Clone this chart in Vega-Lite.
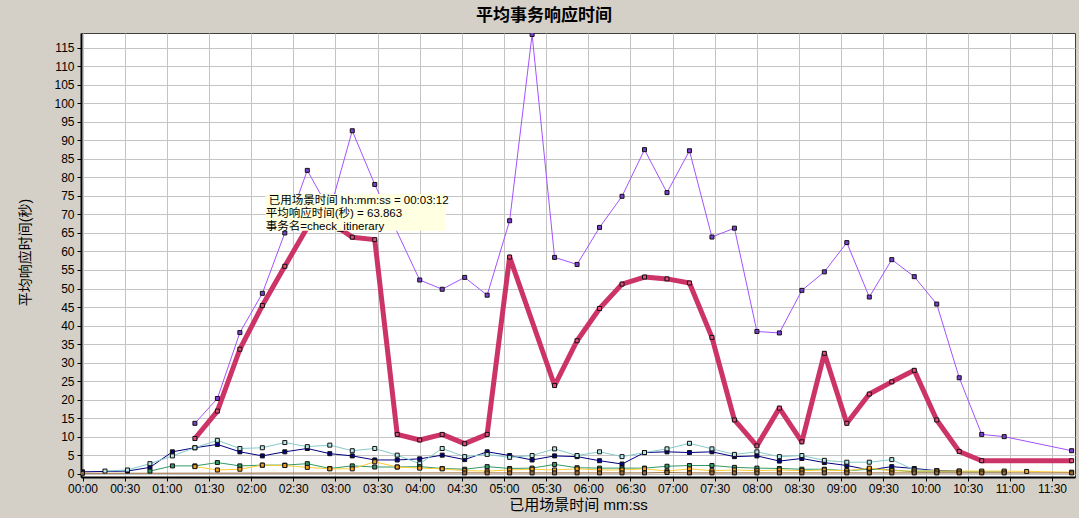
{
  "$schema": "https://vega.github.io/schema/vega-lite/v6.json",
  "width": 994,
  "height": 444,
  "autosize": {"type": "none"},
  "padding": {"left": 81, "top": 33, "right": 4, "bottom": 41},
  "background": "#D4D0C8",
  "view": {"stroke": "#404040", "strokeWidth": 1, "fill": "white"},
  "title": {"text": "平均事务响应时间", "fontSize": 17, "fontWeight": "bold", "font": "Noto Sans CJK SC", "color": "black", "dx": -34, "offset": 8},
  "config": {
    "axis": {"labelFont": "Liberation Sans", "labelFontSize": 12, "labelColor": "black", "titleFont": "Liberation Sans, Noto Sans CJK SC", "titleFontWeight": "normal", "titleColor": "black", "gridColor": "#C4C4C4", "gridWidth": 1, "domainColor": "black", "domainWidth": 2, "tickColor": "black", "tickSize": 4}
  },
  "datasets": {
    "tipbox": [{"t": 130.2, "t2": 258.5, "v": 75.5, "v2": 65.6}],
    "tiptext": [
      {"t": 132.5, "v": 73.7, "label": "已用场景时间 hh:mm:ss = 00:03:12"},
      {"t": 130.4, "v": 70.2, "label": "平均响应时间(秒) = 63.863"},
      {"t": 130.4, "v": 66.7, "label": "事务名=check_itinerary"}
    ]
  },
  "data": {"values": [
    {"s":"check_itinerary","t":80,"v":9.5},{"s":"check_itinerary","t":96,"v":16.9},{"s":"check_itinerary","t":112,"v":33.6},{"s":"check_itinerary","t":128,"v":45.4},{"s":"check_itinerary","t":144,"v":56},{"s":"check_itinerary","t":160,"v":66.5},{"s":"check_itinerary","t":176,"v":68},{"s":"check_itinerary","t":192,"v":63.863},{"s":"check_itinerary","t":208,"v":63.2},{"s":"check_itinerary","t":224,"v":10.6},{"s":"check_itinerary","t":240,"v":9.1},{"s":"check_itinerary","t":256,"v":10.6},{"s":"check_itinerary","t":272,"v":8.1},{"s":"check_itinerary","t":288,"v":10.6},{"s":"check_itinerary","t":304,"v":58.5},{"s":"check_itinerary","t":336,"v":23.8},{"s":"check_itinerary","t":352,"v":35.9},{"s":"check_itinerary","t":368,"v":44.6},{"s":"check_itinerary","t":384,"v":51.2},{"s":"check_itinerary","t":400,"v":53.1},{"s":"check_itinerary","t":416,"v":52.6},{"s":"check_itinerary","t":432,"v":51.5},{"s":"check_itinerary","t":448,"v":36.8},{"s":"check_itinerary","t":464,"v":14.5},{"s":"check_itinerary","t":480,"v":7.5},{"s":"check_itinerary","t":496,"v":17.7},{"s":"check_itinerary","t":512,"v":8.6},{"s":"check_itinerary","t":528,"v":32.5},{"s":"check_itinerary","t":544,"v":13.6},{"s":"check_itinerary","t":560,"v":21.5},{"s":"check_itinerary","t":576,"v":24.8},{"s":"check_itinerary","t":592,"v":27.9},{"s":"check_itinerary","t":608,"v":14.5},{"s":"check_itinerary","t":624,"v":6.0},{"s":"check_itinerary","t":640,"v":3.5},{"s":"check_itinerary","t":704,"v":3.5},
    {"s":"book_flight","t":80,"v":13.6},{"s":"book_flight","t":96,"v":20.3},{"s":"book_flight","t":112,"v":38.1},{"s":"book_flight","t":128,"v":48.7},{"s":"book_flight","t":144,"v":65},{"s":"book_flight","t":160,"v":81.9},{"s":"book_flight","t":176,"v":71},{"s":"book_flight","t":192,"v":92.6},{"s":"book_flight","t":208,"v":78.1},{"s":"book_flight","t":240,"v":52.3},{"s":"book_flight","t":256,"v":49.8},{"s":"book_flight","t":272,"v":53.0},{"s":"book_flight","t":288,"v":48.2},{"s":"book_flight","t":304,"v":68.3},{"s":"book_flight","t":320,"v":118.6},{"s":"book_flight","t":336,"v":58.4},{"s":"book_flight","t":352,"v":56.5},{"s":"book_flight","t":368,"v":66.5},{"s":"book_flight","t":384,"v":74.9},{"s":"book_flight","t":400,"v":87.5},{"s":"book_flight","t":416,"v":75.9},{"s":"book_flight","t":432,"v":87.2},{"s":"book_flight","t":448,"v":63.9},{"s":"book_flight","t":464,"v":66.3},{"s":"book_flight","t":480,"v":38.4},{"s":"book_flight","t":496,"v":38.0},{"s":"book_flight","t":512,"v":49.5},{"s":"book_flight","t":528,"v":54.5},{"s":"book_flight","t":544,"v":62.4},{"s":"book_flight","t":560,"v":47.7},{"s":"book_flight","t":576,"v":57.8},{"s":"book_flight","t":592,"v":53.2},{"s":"book_flight","t":608,"v":45.8},{"s":"book_flight","t":624,"v":25.9},{"s":"book_flight","t":640,"v":10.6},{"s":"book_flight","t":656,"v":10.0},{"s":"book_flight","t":704,"v":6.2},
    {"s":"login","t":0,"v":0.5},{"s":"login","t":32,"v":0.7},{"s":"login","t":48,"v":1.7},{"s":"login","t":64,"v":5.9},{"s":"login","t":80,"v":7.0},{"s":"login","t":96,"v":7.9},{"s":"login","t":112,"v":5.9},{"s":"login","t":128,"v":4.8},{"s":"login","t":144,"v":5.9},{"s":"login","t":160,"v":6.8},{"s":"login","t":176,"v":5.4},{"s":"login","t":192,"v":4.8},{"s":"login","t":208,"v":3.7},{"s":"login","t":224,"v":3.7},{"s":"login","t":240,"v":4.0},{"s":"login","t":256,"v":5.0},{"s":"login","t":272,"v":3.8},{"s":"login","t":288,"v":5.9},{"s":"login","t":304,"v":4.9},{"s":"login","t":320,"v":3.7},{"s":"login","t":336,"v":4.8},{"s":"login","t":352,"v":4.6},{"s":"login","t":368,"v":3.5},{"s":"login","t":384,"v":2.6},{"s":"login","t":400,"v":5.7},{"s":"login","t":416,"v":5.9},{"s":"login","t":432,"v":5.7},{"s":"login","t":448,"v":5.9},{"s":"login","t":464,"v":4.6},{"s":"login","t":480,"v":4.8},{"s":"login","t":496,"v":3.4},{"s":"login","t":512,"v":4.1},{"s":"login","t":528,"v":3.0},{"s":"login","t":544,"v":2.2},{"s":"login","t":560,"v":1.0},{"s":"login","t":576,"v":1.9},{"s":"login","t":592,"v":1.4},{"s":"login","t":608,"v":0.8},{"s":"login","t":624,"v":0.7},
    {"s":"search_flight","t":16,"v":0.7},{"s":"search_flight","t":32,"v":1.0},{"s":"search_flight","t":48,"v":2.7},{"s":"search_flight","t":64,"v":4.8},{"s":"search_flight","t":80,"v":7.0},{"s":"search_flight","t":96,"v":9.0},{"s":"search_flight","t":112,"v":6.8},{"s":"search_flight","t":128,"v":7.0},{"s":"search_flight","t":144,"v":8.4},{"s":"search_flight","t":160,"v":7.3},{"s":"search_flight","t":176,"v":7.7},{"s":"search_flight","t":192,"v":6.2},{"s":"search_flight","t":208,"v":6.8},{"s":"search_flight","t":224,"v":5.0},{"s":"search_flight","t":240,"v":2.7},{"s":"search_flight","t":256,"v":6.8},{"s":"search_flight","t":272,"v":4.6},{"s":"search_flight","t":288,"v":5.2},{"s":"search_flight","t":304,"v":4.4},{"s":"search_flight","t":320,"v":4.9},{"s":"search_flight","t":336,"v":6.7},{"s":"search_flight","t":352,"v":4.9},{"s":"search_flight","t":368,"v":5.9},{"s":"search_flight","t":384,"v":4.6},{"s":"search_flight","t":400,"v":5.7},{"s":"search_flight","t":416,"v":6.7},{"s":"search_flight","t":432,"v":8.2},{"s":"search_flight","t":448,"v":6.7},{"s":"search_flight","t":464,"v":5.2},{"s":"search_flight","t":480,"v":5.9},{"s":"search_flight","t":496,"v":4.6},{"s":"search_flight","t":512,"v":4.9},{"s":"search_flight","t":528,"v":3.6},{"s":"search_flight","t":544,"v":3.1},{"s":"search_flight","t":560,"v":3.1},{"s":"search_flight","t":576,"v":3.8},{"s":"search_flight","t":592,"v":1.0},{"s":"search_flight","t":608,"v":0.8},
    {"s":"home","t":48,"v":0.7},{"s":"home","t":64,"v":2.1},{"s":"home","t":80,"v":2.1},{"s":"home","t":96,"v":3.0},{"s":"home","t":112,"v":2.1},{"s":"home","t":128,"v":2.3},{"s":"home","t":144,"v":2.3},{"s":"home","t":160,"v":2.7},{"s":"home","t":176,"v":1.4},{"s":"home","t":192,"v":2.1},{"s":"home","t":208,"v":1.8},{"s":"home","t":224,"v":1.8},{"s":"home","t":240,"v":1.9},{"s":"home","t":256,"v":1.4},{"s":"home","t":272,"v":1.2},{"s":"home","t":288,"v":1.9},{"s":"home","t":304,"v":1.4},{"s":"home","t":320,"v":1.5},{"s":"home","t":336,"v":2.5},{"s":"home","t":352,"v":1.6},{"s":"home","t":368,"v":1.5},{"s":"home","t":384,"v":1.5},{"s":"home","t":400,"v":1.5},{"s":"home","t":416,"v":2.0},{"s":"home","t":432,"v":2.2},{"s":"home","t":448,"v":2.2},{"s":"home","t":464,"v":1.7},{"s":"home","t":480,"v":1.5},{"s":"home","t":496,"v":1.4},{"s":"home","t":512,"v":1.2},{"s":"home","t":528,"v":1.2},{"s":"home","t":544,"v":0.8},{"s":"home","t":560,"v":1.2},{"s":"home","t":576,"v":1.0},{"s":"home","t":592,"v":0.5},{"s":"home","t":608,"v":0.5},{"s":"home","t":624,"v":0.5},{"s":"home","t":640,"v":0.5},{"s":"home","t":656,"v":0.5},
    {"s":"logout","t":80,"v":1.9},{"s":"logout","t":96,"v":1.0},{"s":"logout","t":112,"v":1.2},{"s":"logout","t":128,"v":2.3},{"s":"logout","t":144,"v":2.2},{"s":"logout","t":160,"v":1.7},{"s":"logout","t":176,"v":1.3},{"s":"logout","t":192,"v":1.3},{"s":"logout","t":208,"v":3.2},{"s":"logout","t":224,"v":1.8},{"s":"logout","t":240,"v":1.5},{"s":"logout","t":256,"v":1.3},{"s":"logout","t":272,"v":0.8},{"s":"logout","t":288,"v":0.7},{"s":"logout","t":304,"v":1.0},{"s":"logout","t":320,"v":1.2},{"s":"logout","t":336,"v":1.0},{"s":"logout","t":352,"v":1.3},{"s":"logout","t":368,"v":1.0},{"s":"logout","t":384,"v":1.0},{"s":"logout","t":400,"v":1.3},{"s":"logout","t":416,"v":0.7},{"s":"logout","t":432,"v":1.3},{"s":"logout","t":448,"v":0.8},{"s":"logout","t":464,"v":1.0},{"s":"logout","t":480,"v":0.8},{"s":"logout","t":496,"v":1.0},{"s":"logout","t":512,"v":0.8},{"s":"logout","t":528,"v":1.0},{"s":"logout","t":544,"v":0.8},{"s":"logout","t":560,"v":1.5},{"s":"logout","t":576,"v":0.8},{"s":"logout","t":592,"v":0.7},{"s":"logout","t":608,"v":0.7},{"s":"logout","t":624,"v":0.7},{"s":"logout","t":640,"v":0.7},{"s":"logout","t":656,"v":0.7},{"s":"logout","t":672,"v":0.6},{"s":"logout","t":704,"v":0.4},
    {"s":"sign_off","t":0,"v":0.1},{"s":"sign_off","t":272,"v":0.2},{"s":"sign_off","t":288,"v":0.2},{"s":"sign_off","t":304,"v":0.2},{"s":"sign_off","t":320,"v":0.2},{"s":"sign_off","t":336,"v":0.2},{"s":"sign_off","t":352,"v":0.2},{"s":"sign_off","t":368,"v":0.2},{"s":"sign_off","t":384,"v":0.2},{"s":"sign_off","t":400,"v":0.2},{"s":"sign_off","t":416,"v":0.3},{"s":"sign_off","t":432,"v":0.2},{"s":"sign_off","t":448,"v":0.2},{"s":"sign_off","t":464,"v":0.2},{"s":"sign_off","t":480,"v":0.2},{"s":"sign_off","t":496,"v":0.2},{"s":"sign_off","t":512,"v":0.2},{"s":"sign_off","t":528,"v":0.2},{"s":"sign_off","t":544,"v":0.2},{"s":"sign_off","t":560,"v":0.2},{"s":"sign_off","t":576,"v":0.2},{"s":"sign_off","t":592,"v":0.2},{"s":"sign_off","t":608,"v":0.2},{"s":"sign_off","t":624,"v":0.2},{"s":"sign_off","t":640,"v":0.2},{"s":"sign_off","t":656,"v":0.2},{"s":"sign_off","t":704,"v":0.2}
  ]},
  "encoding": {
    "x": {"field": "t", "type": "quantitative", "scale": {"domain": [-1.07, 706.4], "nice": false, "zero": false},
      "axis": {"values": [0,30,60,90,120,150,180,210,240,270,300,330,360,390,420,450,480,510,540,570,600,630,660,690],
        "labelExpr": "(floor(datum.value/60) < 10 ? '0' : '') + floor(datum.value/60) + ':' + ((datum.value % 60) < 10 ? '0' : '') + (datum.value % 60)",
        "labelPadding": 2, "labelFlush": false, "labelOverlap": false,
        "title": "已用场景时间 mm:ss", "titleFontSize": 15, "titleX": 497, "titleY": 27, "titleBaseline": "middle", "titleAlign": "center"}},
    "y": {"field": "v", "type": "quantitative", "scale": {"domain": [-0.9, 119.0], "nice": false, "zero": false},
      "axis": {"values": [0,5,10,15,20,25,30,35,40,45,50,55,60,65,70,75,80,85,90,95,100,105,110,115],
        "labelPadding": 3, "labelFlush": false, "labelOverlap": false,
        "title": "平均响应时间(秒)", "titleFontSize": 14, "titleAngle": 270, "titleX": -56, "titleY": 219, "titleBaseline": "middle", "titleAlign": "center"}}
  },
  "layer": [
    {
      "transform": [{"filter": "datum.s !== 'check_itinerary'"}],
      "mark": {"type": "line", "strokeWidth": 1, "clip": true},
      "encoding": {
        "stroke": {"field": "s", "type": "nominal", "legend": null,
          "scale": {"domain": ["book_flight","login","search_flight","home","logout","sign_off"], "range": ["#A352FF","#000080","#86CACA","#339966","#FFCC33","#996633"]}},
        "order": {"field": "t", "type": "quantitative"}
      }
    },
    {
      "transform": [{"filter": "datum.s === 'check_itinerary'"}],
      "mark": {"type": "line", "strokeWidth": 5, "color": "#CC3366", "clip": true, "strokeJoin": "round"},
      "encoding": {
        "order": {"field": "t", "type": "quantitative"}
      }
    },
    {
      "mark": {"type": "point", "shape": "square", "size": 16, "filled": true, "stroke": "#111111", "strokeWidth": 1, "opacity": 1, "clip": true},
      "encoding": {
        "fill": {"field": "s", "type": "nominal", "legend": null,
          "scale": {"domain": ["check_itinerary","book_flight","login","search_flight","home","logout","sign_off"], "range": ["#E0507A","#7A3FD0","#000080","#B8E8E8","#339966","#F0A020","#996633"]}}
      }
    },
    {
      "data": {"name": "tipbox"},
      "mark": {"type": "rect", "fill": "#FFFFE1"},
      "encoding": {
        "x2": {"field": "t2"},
        "y2": {"field": "v2"}
      }
    },
    {
      "data": {"name": "tiptext"},
      "mark": {"type": "text", "align": "left", "baseline": "middle", "fontSize": 11.5, "font": "Liberation Sans, Noto Sans CJK SC", "color": "black"},
      "encoding": {
        "text": {"field": "label"}
      }
    }
  ]
}
